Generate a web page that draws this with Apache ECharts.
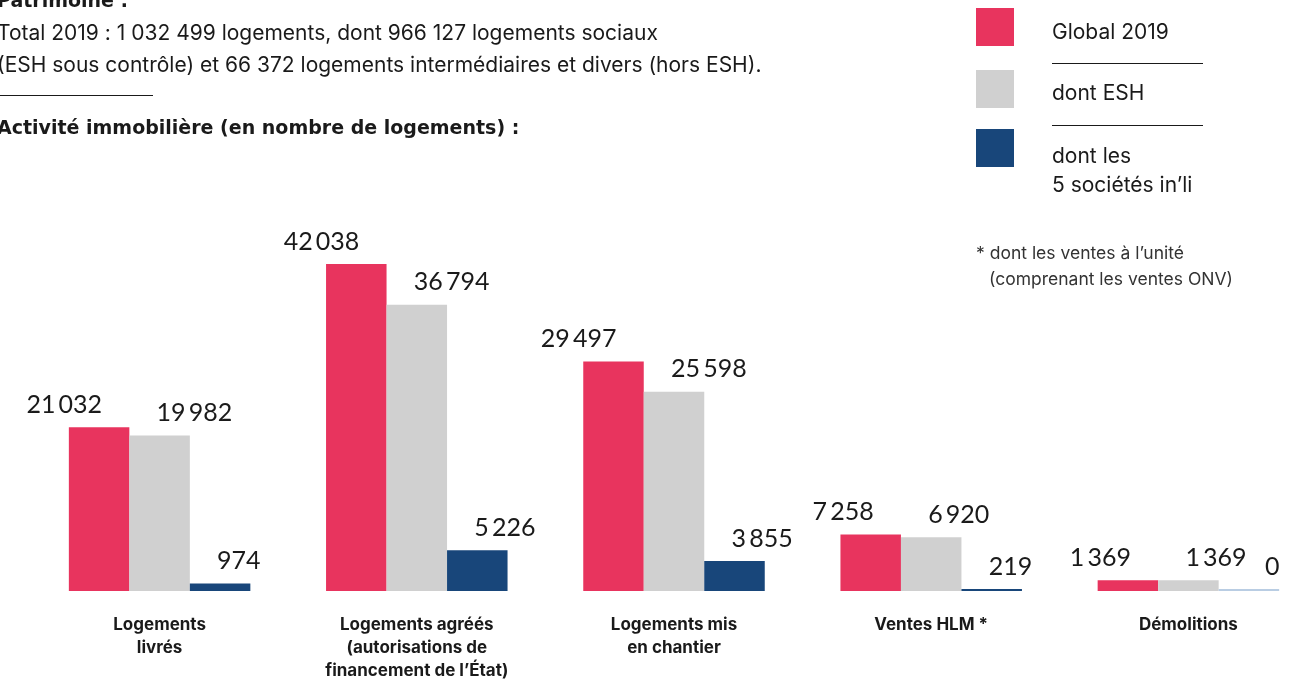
<!DOCTYPE html>
<html lang="fr">
<head>
<meta charset="utf-8">
<title>Activité immobilière</title>
<script src="https://cdn.jsdelivr.net/npm/echarts@6/dist/echarts.min.js"></script>
<style>
  html, body { margin: 0; padding: 0; background: #fff; overflow: hidden; }
  /* un peu plus large que la fenêtre : la dernière barre touche presque le bord */
  #chart { width: 1320px; height: 682px; }
</style>
</head>
<body>
<div id="chart"></div>
<script>
    // données
    var categories = [
        'Logements\nlivrés',
        'Logements agréés\n(autorisations de\nfinancement de l’État)',
        'Logements mis\nen chantier',
        'Ventes HLM *',
        'Démolitions'
    ];
    var seriesNames = ['Global 2019', 'dont ESH', 'dont les\n5 sociétés in’li'];
    var global2019 = [21032, 42038, 29497, 7258, 1369];
    var dontESH = [19982, 36794, 25598, 6920, 1369];
    var dontInli = [974, 5226, 3855, 219, 0];

    var colors = ['#e8345e', '#d0d0d0', '#18467a'];
    var zeroColor = '#b9cde3';
    var textFont = 'Inter, "Noto Sans", sans-serif';
    var headFont = '"DejaVu Sans", Inter, sans-serif';
    var numFont = 'Lato, Inter, sans-serif';

    function fmt(v) {
        return String(v).replace(/\B(?=(\d{3})+(?!\d))/g, '\u2009');
    }

    var myChart = echarts.init(document.getElementById('chart'));

    function numLabel(align, dx) {
        return {
            show: true,
            position: 'top',
            distance: 10,
            align: align,
            offset: [dx, 0],
            fontFamily: numFont,
            fontSize: 25,
            color: '#1a1a1a',
            formatter: function (p) { return fmt(p.value); }
        };
    }

    // la barre à 0 est un trait bleu clair
    var inliData = dontInli.map(function (v) {
        if (v === 0) {
            return { value: v, itemStyle: { color: zeroColor }, label: { offset: [16, 0] } };
        }
        return v;
    });

    // légende + textes (graphic)
    var graphics = [
        { type: 'text', left: -3, top: -7, style: { text: 'Patrimoine :', font: 'bold 19px ' + headFont, fill: '#1a1a1a' } },
        { type: 'text', left: -3, top: 23.5, style: { text: 'Total 2019 : 1 032 499 logements, dont 966 127 logements sociaux', font: '21px ' + textFont, fill: '#1a1a1a' } },
        { type: 'text', left: -3, top: 55.5, style: { text: '(ESH sous contrôle) et 66 372 logements intermédiaires et divers (hors ESH).', font: '21px ' + textFont, fill: '#1a1a1a' } },
        { type: 'line', shape: { x1: 0, y1: 95.5, x2: 153, y2: 95.5 }, style: { stroke: '#1a1a1a', lineWidth: 1 } },
        { type: 'text', left: -3, top: 120, style: { text: 'Activité immobilière (en nombre de logements) :', font: 'bold 19px ' + headFont, fill: '#1a1a1a' } },

        { type: 'rect', shape: { x: 976, y: 8, width: 38, height: 38 }, style: { fill: colors[0] } },
        { type: 'rect', shape: { x: 976, y: 70, width: 38, height: 38 }, style: { fill: colors[1] } },
        { type: 'rect', shape: { x: 976, y: 129, width: 38, height: 38 }, style: { fill: colors[2] } },
        { type: 'text', left: 1052, top: 22.5, style: { text: seriesNames[0], font: '21px ' + textFont, fill: '#1a1a1a' } },
        { type: 'line', shape: { x1: 1052, y1: 63.5, x2: 1203, y2: 63.5 }, style: { stroke: '#1a1a1a', lineWidth: 1 } },
        { type: 'text', left: 1052, top: 83.5, style: { text: seriesNames[1], font: '21px ' + textFont, fill: '#1a1a1a' } },
        { type: 'line', shape: { x1: 1052, y1: 125.5, x2: 1203, y2: 125.5 }, style: { stroke: '#1a1a1a', lineWidth: 1 } },
        { type: 'text', left: 1052, top: 142.5, style: { text: seriesNames[2], font: '21px ' + textFont, fill: '#1a1a1a', lineHeight: 29 } },

        { type: 'text', left: 976, top: 245, style: { text: '* dont les ventes à l’unité', font: '17.5px ' + textFont, fill: '#333' } },
        { type: 'text', left: 989, top: 271, style: { text: '(comprenant les ventes ONV)', font: '17.5px ' + textFont, fill: '#333' } }
    ];

    var option = {
        animation: false,
        backgroundColor: '#fff',
        grid: { left: 31, right: 3, top: 202, bottom: 91, containLabel: false },
        xAxis: {
            type: 'category',
            data: categories,
            axisLine: { show: false },
            axisTick: { show: false },
            axisLabel: {
                interval: 0,
                margin: 22,
                fontFamily: textFont,
                fontWeight: 'bold',
                fontSize: 17,
                lineHeight: 23,
                color: '#1a1a1a',
                verticalAlign: 'top'
            }
        },
        yAxis: {
            type: 'value',
            min: 0,
            max: 50000,
            show: false,
            splitLine: { show: false }
        },
        graphic: graphics,
        series: [
            {
                name: seriesNames[0], type: 'bar', data: global2019,
                barWidth: 60.5, barGap: '0%', barMinHeight: 2,
                itemStyle: { color: colors[0] },
                label: numLabel('right', 3)
            },
            {
                name: seriesNames[1], type: 'bar', data: dontESH,
                barWidth: 60.5, barGap: '0%', barMinHeight: 2,
                itemStyle: { color: colors[1] },
                label: numLabel('left', -3)
            },
            {
                name: seriesNames[2], type: 'bar', data: inliData,
                barWidth: 60.5, barGap: '0%', barMinHeight: 2,
                itemStyle: { color: colors[2] },
                label: numLabel('left', -3)
            }
        ]
    };
    myChart.setOption(option);
</script>
</body>
</html>
